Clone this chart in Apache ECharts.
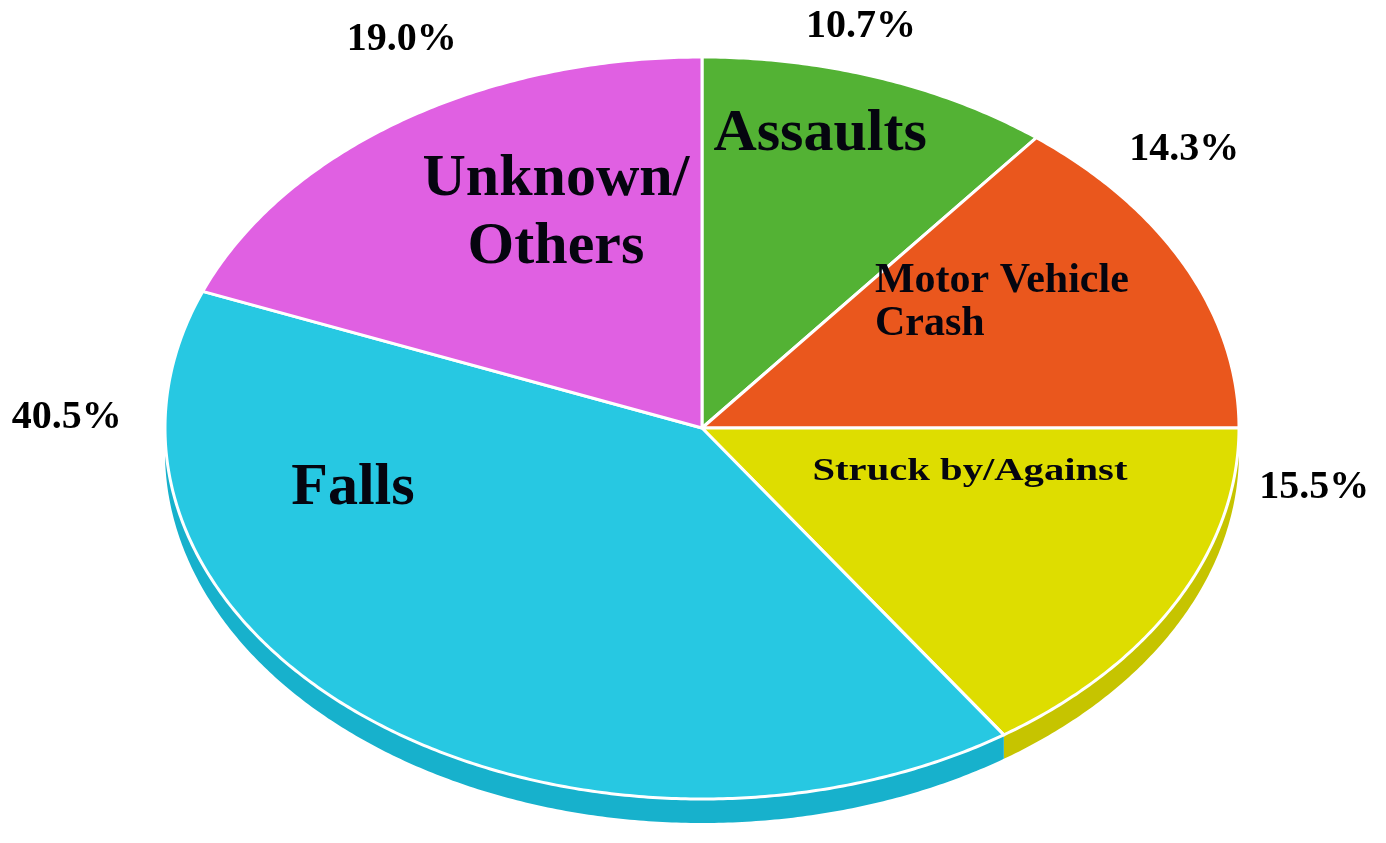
<!DOCTYPE html>
<html><head><meta charset="utf-8">
<script src="https://cdn.jsdelivr.net/npm/echarts@6/dist/echarts.min.js"></script>
<style>html,body{margin:0;padding:0;background:#fff}#c{width:1386px;height:843px}</style>
</head><body><div id="c"></div>
<script>
// ---- data ----
const categories = ['Assaults', 'Motor Vehicle Crash', 'Struck by/Against', 'Falls', 'Unknown/Others'];
const nameLabels = ['Assaults', 'Motor Vehicle\nCrash', 'Struck by/Against', 'Falls', 'Unknown/\nOthers'];
const values = [10.7, 14.3, 15.5, 40.5, 19.0];

// ---- styles / layout ----
const topColors = ['#53b234', '#ea571d', '#dedd00', '#27c8e2', '#e060e2'];
const sideColors = ['#3f9a25', '#c9440f', '#c6c400', '#17b1cc', '#c24dc4'];
const pie = { cx: 702, cy: 428, rx: 537, ry: 371, depth: 24 };
// [dx in rx units, dy in ry units, align, fontSize, scaleX, lineHeight]
const nameSpots = [
  [0.220, -0.792, 'center', 60, 1, 68],
  [0.322, -0.337, 'left', 42, 1, 43],
  [0.499, 0.119, 'center', 32, 1.27, 40],
  [-0.650, 0.162, 'center', 60, 1, 68],
  [-0.272, -0.577, 'center', 60, 1, 68]
];
const pctSpots = [[0.296, -1.081], [0.898, -0.749], [1.140, 0.162], [-1.183, -0.027], [-0.559, -1.046]];
const FONT = "'Liberation Serif', 'Times New Roman', serif";

const total = values.reduce((a, b) => a + b, 0);
function pt(deg, dy) {
  const r = deg * Math.PI / 180;
  return [pie.cx + pie.rx * Math.sin(r), pie.cy - pie.ry * Math.cos(r) + (dy || 0)];
}
function arc(a0, a1, dy) {
  const n = Math.max(2, Math.ceil(Math.abs(a1 - a0) * 2));
  const out = [];
  for (let i = 0; i <= n; i++) out.push(pt(a0 + (a1 - a0) * i / n, dy));
  return out;
}

const chart = echarts.init(document.getElementById('c'), null, { renderer: 'canvas' });
chart.setOption({
  animation: false,
  backgroundColor: '#ffffff',
  series: [{
    type: 'custom',
    coordinateSystem: 'none',
    data: values.map((v, i) => ({ value: v, name: categories[i] })),
    renderItem: function (params, api) {
      const i = params.dataIndex;
      let start = 0;
      for (let k = 0; k < i; k++) start += values[k];
      const a0 = start / total * 360;
      const a1 = (start + api.value(0)) / total * 360;
      const children = [];
      const s0 = Math.max(a0, 90), s1 = Math.min(a1, 270);
      if (s1 > s0) {
        children.push({
          type: 'polygon', z2: 1,
          shape: { points: arc(s0, s1, 0).concat(arc(s1, s0, pie.depth)) },
          style: { fill: sideColors[i] }
        });
      }
      children.push({
        type: 'polygon', z2: 2,
        shape: { points: [[pie.cx, pie.cy]].concat(arc(a0, a1, 0)) },
        style: { fill: topColors[i], stroke: '#ffffff', lineWidth: 3, lineJoin: 'round' }
      });
      const ns = nameSpots[i];
      children.push({
        type: 'text', z2: 10,
        x: pie.cx + ns[0] * pie.rx, y: pie.cy + ns[1] * pie.ry,
        scaleX: ns[4], scaleY: 1,
        style: {
          text: nameLabels[i], fontFamily: FONT, fontWeight: 'bold', fontSize: ns[3],
          lineHeight: ns[5], fill: '#05050f', align: ns[2], verticalAlign: 'middle'
        }
      });
      const ps = pctSpots[i];
      children.push({
        type: 'text', z2: 10,
        x: pie.cx + ps[0] * pie.rx, y: pie.cy + ps[1] * pie.ry,
        style: {
          text: api.value(0).toFixed(1) + '%', fontFamily: FONT, fontWeight: 'bold', fontSize: 40,
          fill: '#000000', align: 'center', verticalAlign: 'middle'
        }
      });
      return { type: 'group', children: children };
    }
  }]
});
</script>
</body></html>
